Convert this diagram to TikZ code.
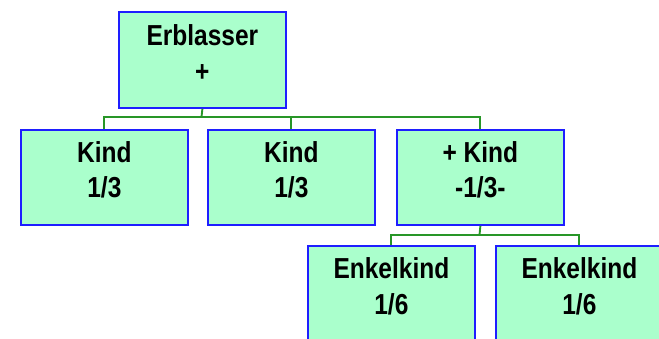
\documentclass[tikz,border=0pt]{standalone}
\usepackage{fontspec}
\usepackage{graphicx}
\setmainfont{Liberation Sans}
\definecolor{boxfill}{RGB}{170,255,204}
\definecolor{boxedge}{RGB}{30,30,255}
\definecolor{linkgreen}{RGB}{40,150,40}
\tikzset{
  person/.style={draw=boxedge, fill=boxfill, line width=1.8pt, rectangle,
    minimum width=167pt, minimum height=95pt, inner sep=0pt, anchor=north west},
  txt/.style={inner sep=0pt, text height=20.8pt, text depth=0pt,
    font=\fontsize{24.5}{28}\selectfont\bfseries},
  conn/.style={draw=linkgreen, line width=1.9pt}
}
\newcommand\tall[1]{\scalebox{1}[1.18]{#1}}
\begin{document}
\begin{tikzpicture}[x=1pt,y=1pt]
  \useasboundingbox (0,0) rectangle (659,-338);

  % junction points of the connector buses
  \coordinate (busA) at (201.5,-117);
  \coordinate (busB) at (479.5,-235);

  % boxes
  \node[person, minimum height=96pt] (erb) at (118,-11) {};
  \node[person] (k1) at (20,-129) {};
  \node[person] (k2) at (207,-129) {};
  \node[person] (k3) at (396,-129) {};
  \node[person] (e1) at (307,-245) {};
  \node[person] (e2) at (495,-245) {};

  % connectors
  \draw[conn] (erb.south) -- (busA);
  \draw[conn] (busA) -| (k1.north);
  \draw[conn] (busA) -| (k2.north);
  \draw[conn] (busA) -| (k3.north);
  \draw[conn] (k3.south) -- (busB);
  \draw[conn] (busB) -| (e1.north);
  \draw[conn] (busB) -| (e2.north);

  % labels
  \node[txt] (erbA) at ([yshift=-24]erb.north) {\tall{Erblasser}};
  \node[txt] (erbB) at ([yshift=-60]erb.north) {\tall{+}};
  \node[txt] (k1A) at ([yshift=-23]k1.north) {\tall{Kind}};
  \node[txt] (k1B) at ([yshift=-58.5]k1.north) {\tall{1/3}};
  \node[txt] (k2A) at ([yshift=-23]k2.north) {\tall{Kind}};
  \node[txt] (k2B) at ([yshift=-58.5]k2.north) {\tall{1/3}};
  \node[txt] (k3A) at ([yshift=-23]k3.north) {\tall{+ Kind}};
  \node[txt] (k3B) at ([yshift=-58.5]k3.north) {\tall{-1/3-}};
  \node[txt] (e1A) at ([yshift=-23]e1.north) {\tall{Enkelkind}};
  \node[txt] (e1B) at ([yshift=-59]e1.north) {\tall{1/6}};
  \node[txt] (e2A) at ([yshift=-23]e2.north) {\tall{Enkelkind}};
  \node[txt] (e2B) at ([yshift=-59]e2.north) {\tall{1/6}};
\end{tikzpicture}
\end{document}
